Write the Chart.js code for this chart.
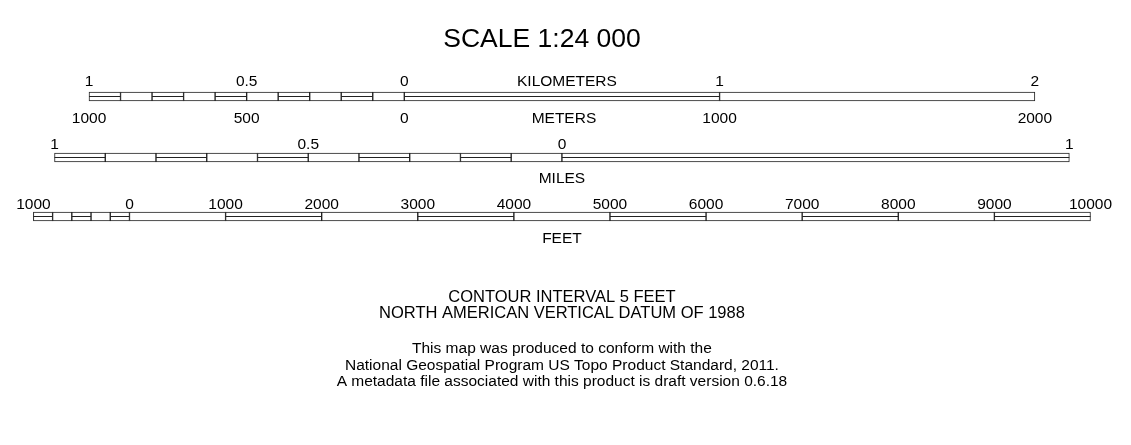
<!DOCTYPE html>
<html>
<head>
<meta charset="utf-8">
<script src="https://cdn.jsdelivr.net/npm/chart.js@4.4.1/dist/chart.umd.min.js"></script>
<style>
html,body{margin:0;padding:0;background:#fff;}
#wrap{width:1131px;height:445px;position:relative;}
</style>
</head>
<body>
<div id="wrap"><canvas id="c"></canvas></div>
<script>
// ---------- DATA ----------
const scaleTitle = 'SCALE 1:24 000';

const kmBreaks = [-1, -0.9, -0.8, -0.7, -0.6, -0.5, -0.4, -0.3, -0.2, -0.1, 0, 1, 2];
const kmDouble = [1, 0, 1, 0, 1, 0, 1, 0, 1, 0, 1, 0];
const kmTickValues = [-1, -0.5, 0, 1, 2];
const kmTickLabels = ['1', '0.5', '0', '1', '2'];
const meterTickValues = [-1000, -500, 0, 1000, 2000];
const meterTickLabels = ['1000', '500', '0', '1000', '2000'];

const mileBreaks = [-1, -0.9, -0.8, -0.7, -0.6, -0.5, -0.4, -0.3, -0.2, -0.1, 0, 1];
const mileDouble = [1, 0, 1, 0, 1, 0, 1, 0, 1, 0, 1];
const mileTickValues = [-1, -0.5, 0, 1];
const mileTickLabels = ['1', '0.5', '0', '1'];

const feetBreaks = [-1000, -800, -600, -400, -200, 0, 1000, 2000, 3000, 4000, 5000, 6000, 7000, 8000, 9000, 10000];
const feetDouble = [1, 0, 1, 0, 1, 0, 1, 0, 1, 0, 1, 0, 1, 0, 1];
const feetTickValues = [-1000, 0, 1000, 2000, 3000, 4000, 5000, 6000, 7000, 8000, 9000, 10000];
const feetTickLabels = ['1000', '0', '1000', '2000', '3000', '4000', '5000', '6000', '7000', '8000', '9000', '10000'];

const unitNames = ['KILOMETERS', 'METERS', 'MILES', 'FEET'];
const datumNotes = ['CONTOUR INTERVAL 5 FEET', 'NORTH AMERICAN VERTICAL DATUM OF 1988'];
const standardNotes = [
  'This map was produced to conform with the',
  'National Geospatial Program US Topo Product Standard, 2011.',
  'A metadata file associated with this product is draft version 0.6.18'
];

// unit lengths in ground metres
const M_PER_KM = 1000, M_PER_M = 1, M_PER_MI = 1609.344, M_PER_FT = 0.3048;

// ---------- LAYOUT ----------
const X_MIN = -1282.3, X_MAX = 2304.9;      // ground metres across the canvas
const CENTER = (kmBreaks[0] + kmBreaks[kmBreaks.length - 1]) / 2 * M_PER_KM;
const offsetFor = (br, u) => CENTER - (br[0] + br[br.length - 1]) / 2 * u;
const OFF_KM = offsetFor(kmBreaks, M_PER_KM);
const OFF_MI = offsetFor(mileBreaks, M_PER_MI);
const OFF_FT = offsetFor(feetBreaks, M_PER_FT);

const ROW = { km: 96.5, mi: 157.5, ft: 216.5 };
const LBL = { kmTop: 86, mTop: 123, miTop: 149, miName: 183, ftTop: 209, ftName: 243 };
const FONT = '"Liberation Sans", Arial, sans-serif';
const LINE = '#222';

function segments(br, u, off, y) {
  return br.slice(0, -1).map((b, i) => ({ x: [b * u + off, br[i + 1] * u + off], y: y }));
}
function midlines(br, dbl, u, off, y) {
  const pts = [];
  dbl.forEach((d, i) => {
    if (d) pts.push({ x: br[i] * u + off, y: y }, { x: br[i + 1] * u + off, y: y }, { x: null, y: null });
  });
  return pts;
}

const barStyle = {
  type: 'bar', indexAxis: 'y', backgroundColor: '#fff', borderColor: LINE, borderWidth: 1,
  borderSkipped: false, barThickness: 9, grouped: false, order: 2
};
const lineStyle = {
  type: 'line', borderColor: LINE, borderWidth: 1, pointRadius: 0, fill: false,
  tension: 0, spanGaps: false, order: 1
};

const datasets = [
  Object.assign({ label: 'km', data: segments(kmBreaks, M_PER_KM, OFF_KM, ROW.km) }, barStyle),
  Object.assign({ label: 'mi', data: segments(mileBreaks, M_PER_MI, OFF_MI, ROW.mi) }, barStyle),
  Object.assign({ label: 'ft', data: segments(feetBreaks, M_PER_FT, OFF_FT, ROW.ft) }, barStyle),
  Object.assign({ label: 'km-mid', data: midlines(kmBreaks, kmDouble, M_PER_KM, OFF_KM, ROW.km) }, lineStyle),
  Object.assign({ label: 'mi-mid', data: midlines(mileBreaks, mileDouble, M_PER_MI, OFF_MI, ROW.mi) }, lineStyle),
  Object.assign({ label: 'ft-mid', data: midlines(feetBreaks, feetDouble, M_PER_FT, OFF_FT, ROW.ft) }, lineStyle)
];

const textPlugin = {
  id: 'scaleText',
  afterDraw(chart) {
    const ctx = chart.ctx, xs = chart.scales.x, ys = chart.scales.y;
    const X = (v, u, off) => xs.getPixelForValue(v * u + off);
    const Y = v => ys.getPixelForValue(v);
    ctx.save();
    ctx.fillStyle = '#000';
    ctx.textAlign = 'center';
    ctx.textBaseline = 'alphabetic';

    ctx.font = '26.5px ' + FONT;
    ctx.fillText(scaleTitle, 542, Y(47));

    ctx.font = '15.5px ' + FONT;
    const row = (vals, labels, u, off, y) =>
      vals.forEach((v, i) => ctx.fillText(labels[i], X(v, u, off), Y(y)));
    row(kmTickValues, kmTickLabels, M_PER_KM, OFF_KM, LBL.kmTop);
    row(meterTickValues, meterTickLabels, M_PER_M, OFF_KM, LBL.mTop);
    row(mileTickValues, mileTickLabels, M_PER_MI, OFF_MI, LBL.miTop);
    row(feetTickValues, feetTickLabels, M_PER_FT, OFF_FT, LBL.ftTop);

    const mid = xs.getPixelForValue(CENTER);
    ctx.fillText(unitNames[0], mid + 5, Y(LBL.kmTop));
    ctx.fillText(unitNames[1], mid + 2, Y(LBL.mTop));
    ctx.fillText(unitNames[2], mid, Y(LBL.miName));
    ctx.fillText(unitNames[3], mid, Y(LBL.ftName));

    ctx.font = '16.5px ' + FONT;
    datumNotes.forEach((t, i) => ctx.fillText(t, mid, Y(302 + i * 16)));
    ctx.font = '15.5px ' + FONT;
    standardNotes.forEach((t, i) => ctx.fillText(t, mid, Y(353 + i * 16.5)));
    ctx.restore();
  }
};

new Chart(document.getElementById('c'), {
  data: { datasets: datasets },
  options: {
    responsive: true,
    maintainAspectRatio: false,
    animation: false,
    events: [],
    layout: { padding: 0 },
    plugins: { legend: { display: false }, tooltip: { enabled: false }, title: { display: false } },
    scales: {
      x: { type: 'linear', display: false, offset: false, min: X_MIN, max: X_MAX },
      y: { type: 'linear', display: false, offset: false, min: 0, max: 445, reverse: true }
    }
  },
  plugins: [textPlugin]
});
</script>
</body>
</html>
